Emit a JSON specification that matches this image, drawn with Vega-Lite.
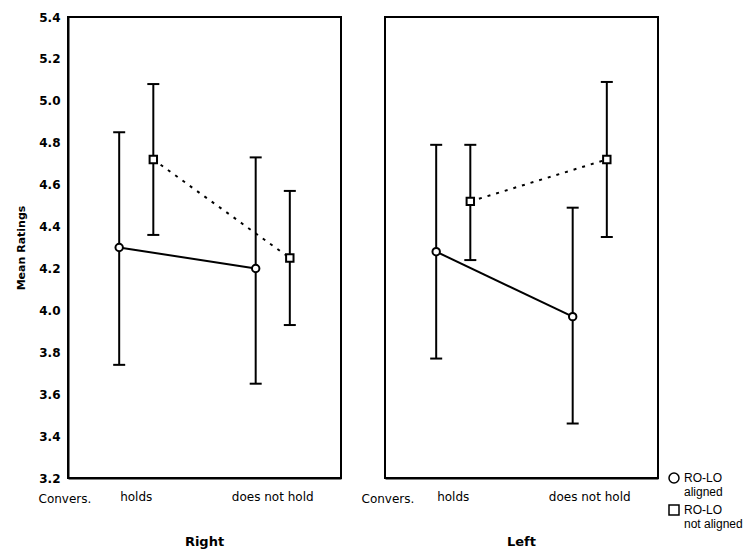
{
  "$schema": "https://vega.github.io/schema/vega-lite/v6.json",
  "background": "white",
  "padding": {"left": 14, "top": 10, "right": 0, "bottom": 0},
  "data": {
    "values": [
      {"side": "Right", "condition": "holds", "group": "RO-LO aligned", "mean": 4.30, "lo": 3.74, "hi": 4.85},
      {"side": "Right", "condition": "holds", "group": "RO-LO not aligned", "mean": 4.72, "lo": 4.36, "hi": 5.08},
      {"side": "Right", "condition": "does not hold", "group": "RO-LO aligned", "mean": 4.20, "lo": 3.65, "hi": 4.73},
      {"side": "Right", "condition": "does not hold", "group": "RO-LO not aligned", "mean": 4.25, "lo": 3.93, "hi": 4.57},
      {"side": "Left", "condition": "holds", "group": "RO-LO aligned", "mean": 4.28, "lo": 3.77, "hi": 4.79},
      {"side": "Left", "condition": "holds", "group": "RO-LO not aligned", "mean": 4.52, "lo": 4.24, "hi": 4.79},
      {"side": "Left", "condition": "does not hold", "group": "RO-LO aligned", "mean": 3.97, "lo": 3.46, "hi": 4.49},
      {"side": "Left", "condition": "does not hold", "group": "RO-LO not aligned", "mean": 4.72, "lo": 4.35, "hi": 5.09}
    ]
  },
  "spacing": 18,
  "hconcat": [
    {
      "width": 273,
      "height": 461,
      "transform": [{"filter": "datum.side === 'Right'"}],
      "title": {"text": "Right", "orient": "bottom", "anchor": "middle", "fontSize": 13, "fontWeight": "bold", "offset": 32, "font": "DejaVu Sans"},
      "encoding": {
        "x": {"field": "condition", "type": "nominal", "sort": ["holds", "does not hold"],
              "scale": {"paddingInner": 0, "paddingOuter": 0},
              "axis": {"title": "Convers.", "titleAnchor": "start", "titleAlign": "left", "titleX": -30, "titleY": 24, "titleBaseline": "alphabetic", "titleFontWeight": "normal", "titleFontSize": 12, "labelAngle": 0, "labelFontSize": 12, "labelPadding": 13, "ticks": false, "domainColor": "black", "domainWidth": 2, "labelColor": "black", "titleColor": "black"}},
        "xOffset": {"field": "group", "type": "nominal", "sort": ["RO-LO aligned", "RO-LO not aligned"], "scale": {"paddingInner": 0, "paddingOuter": 2.4}}
      },
      "layer": [
        {"mark": {"type": "rule", "color": "black", "strokeWidth": 2},
         "encoding": {"y": {"field": "lo", "type": "quantitative", "scale": {"domain": [3.2, 5.4], "nice": false, "zero": false},
                             "axis": {"title": "Mean Ratings", "titleFontSize": 11, "titleFontWeight": "bold", "titlePadding": 12, "values": [3.2, 3.4, 3.6, 3.8, 4.0, 4.2, 4.4, 4.6, 4.8, 5.0, 5.2, 5.4], "format": ".1f", "labelFontSize": 12, "labelFontWeight": "bold", "labelPadding": 8, "ticks": false, "grid": false, "domainColor": "black", "domainWidth": 2, "labelColor": "black", "titleColor": "black"}},
                      "y2": {"field": "hi"}}},
        {"mark": {"type": "tick", "color": "black", "size": 12, "thickness": 2, "opacity": 1},
         "encoding": {"y": {"field": "lo", "type": "quantitative"}}},
        {"mark": {"type": "tick", "color": "black", "size": 12, "thickness": 2, "opacity": 1},
         "encoding": {"y": {"field": "hi", "type": "quantitative"}}},
        {"transform": [{"filter": "datum.group === 'RO-LO aligned'"}],
         "mark": {"type": "line", "color": "black", "strokeWidth": 2},
         "encoding": {"y": {"field": "mean", "type": "quantitative"}}},
        {"transform": [{"filter": "datum.group === 'RO-LO not aligned'"}],
         "mark": {"type": "line", "color": "black", "strokeWidth": 2, "strokeDash": [3, 6]},
         "encoding": {"y": {"field": "mean", "type": "quantitative"}}},
        {"mark": {"type": "point", "filled": false, "fill": "white", "stroke": "black", "color": "black", "strokeWidth": 2, "size": 55, "opacity": 1, "fillOpacity": 1},
         "encoding": {"y": {"field": "mean", "type": "quantitative"},
                      "shape": {"field": "group", "type": "nominal", "scale": {"domain": ["RO-LO aligned", "RO-LO not aligned"], "range": ["circle", "square"]},
                                "legend": {"title": null, "orient": "none", "legendX": 600, "legendY": 455, "labelFont": "Liberation Sans", "labelFontSize": 12, "labelColor": "black", "rowPadding": 4,
                                           "labelExpr": "datum.label == 'RO-LO aligned' ? ['RO-LO', 'aligned'] : ['RO-LO', 'not aligned']"}}}}
      ]
    },
    {
      "width": 273,
      "height": 461,
      "transform": [{"filter": "datum.side === 'Left'"}],
      "title": {"text": "Left", "orient": "bottom", "anchor": "middle", "fontSize": 13, "fontWeight": "bold", "offset": 32, "font": "DejaVu Sans"},
      "encoding": {
        "x": {"field": "condition", "type": "nominal", "sort": ["holds", "does not hold"],
              "scale": {"paddingInner": 0, "paddingOuter": 0},
              "axis": {"title": "Convers.", "titleAnchor": "start", "titleAlign": "left", "titleX": -24, "titleY": 24, "titleBaseline": "alphabetic", "titleFontWeight": "normal", "titleFontSize": 12, "labelAngle": 0, "labelFontSize": 12, "labelPadding": 13, "ticks": false, "domainColor": "black", "domainWidth": 2, "labelColor": "black", "titleColor": "black"}},
        "xOffset": {"field": "group", "type": "nominal", "sort": ["RO-LO aligned", "RO-LO not aligned"], "scale": {"paddingInner": 0, "paddingOuter": 2.4}}
      },
      "layer": [
        {"mark": {"type": "rule", "color": "black", "strokeWidth": 2},
         "encoding": {"y": {"field": "lo", "type": "quantitative", "scale": {"domain": [3.2, 5.4], "nice": false, "zero": false}, "axis": null},
                      "y2": {"field": "hi"}}},
        {"mark": {"type": "tick", "color": "black", "size": 12, "thickness": 2, "opacity": 1},
         "encoding": {"y": {"field": "lo", "type": "quantitative"}}},
        {"mark": {"type": "tick", "color": "black", "size": 12, "thickness": 2, "opacity": 1},
         "encoding": {"y": {"field": "hi", "type": "quantitative"}}},
        {"transform": [{"filter": "datum.group === 'RO-LO aligned'"}],
         "mark": {"type": "line", "color": "black", "strokeWidth": 2},
         "encoding": {"y": {"field": "mean", "type": "quantitative"}}},
        {"transform": [{"filter": "datum.group === 'RO-LO not aligned'"}],
         "mark": {"type": "line", "color": "black", "strokeWidth": 2, "strokeDash": [3, 6]},
         "encoding": {"y": {"field": "mean", "type": "quantitative"}}},
        {"mark": {"type": "point", "filled": false, "fill": "white", "stroke": "black", "color": "black", "strokeWidth": 2, "size": 55, "opacity": 1, "fillOpacity": 1},
         "encoding": {"y": {"field": "mean", "type": "quantitative"},
                      "shape": {"field": "group", "type": "nominal", "scale": {"domain": ["RO-LO aligned", "RO-LO not aligned"], "range": ["circle", "square"]}}}}
      ]
    }
  ],
  "config": {
    "font": "DejaVu Sans",
    "view": {"stroke": "black", "strokeWidth": 2},
    "axis": {"labelFont": "DejaVu Sans", "titleFont": "DejaVu Sans"},
    "legend": {"labelFont": "Liberation Sans"}
  }
}
